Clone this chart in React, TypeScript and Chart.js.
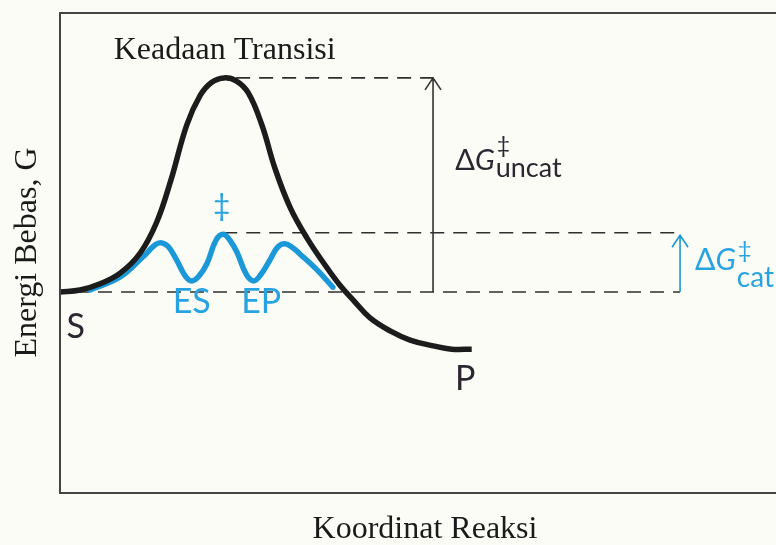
import { useEffect, useRef } from "react";
import { Chart, registerables } from "chart.js";

Chart.register(...registerables);

// Reaction coordinate (x) and free energy G (y), arbitrary units 0..100
const uncatX = [0, 2.8, 5.6, 8.4, 11.2, 13.5, 15.5, 17.7, 19.6, 21.2, 22.9, 24.6, 26.3, 28.2, 30.0, 32.1, 34.5, 37.3, 39.1, 41.2, 43.3, 46.1, 48.9, 52.1, 54.7, 57.5];
const uncatG = [41.8, 42.2, 43.5, 45.7, 49.9, 56.3, 65.1, 76.5, 82.7, 85.4, 86.3, 85.7, 83.2, 76.5, 67.6, 59.5, 53.0, 46.8, 43.2, 39.7, 36.4, 33.7, 31.8, 30.6, 29.9, 29.9];

const catX = [4.2, 8.4, 11.6, 13.3, 14.2, 15.2, 16.3, 17.5, 18.4, 19.4, 20.5, 21.8, 22.8, 23.7, 24.7, 26.0, 27.0, 27.9, 29.3, 30.4, 31.4, 32.4, 33.5, 35.9, 38.1];
const catG = [42.2, 44.9, 49.1, 51.6, 52.0, 51.1, 48.4, 45.1, 44.1, 45.1, 47.6, 52.6, 53.8, 52.6, 50.1, 45.5, 44.1, 45.1, 48.4, 51.1, 51.8, 51.1, 49.7, 46.4, 42.8];

// Dashed reference levels
const levelG = [86.3, 54.1, 41.8];
const levelFrom = [24.6, 22.8, 2.1];
const levelTo = [52.1, 86.6, 86.6];

// Activation energy arrows
const arrowX = [52.1, 86.6];
const arrowBase = [41.8, 41.8];
const arrowTip = [86.3, 53.6];
const arrowKind = ["uncat", "cat"];

// Point labels
const labelText = ["S", "P", "ES", "EP", "‡"];
const labelX = [2.2, 56.6, 18.4, 28.1, 22.6];
const labelY = [32.2, 21.4, 37.4, 37.4, 59.5];
const labelKind = ["dark", "dark", "blue", "blue", "blue"];

// ΔG‡ labels
const deltaSub = ["uncat", "cat"];
const deltaX = [55.2, 88.7];
const deltaY = [67.2, 46.4];

const titleText = "Keadaan Transisi";
const titleX = 23.0;
const titleY = 90.2;
const xTitle = "Koordinat Reaksi";
const yTitle = "Energi Bebas, G";

const BG = "#fcfcf7";
const DARK = "#1c1c1c";
const TEXT_DARK = "#2b2630";
const BLUE = "#1b98d8";
const BLUE_TEXT = "#27a3e2";
const SANS = "Lato, 'Open Sans', sans-serif";
const SERIF = "'Liberation Serif', 'DejaVu Serif', serif";

const diagramPlugin = {
  id: "diagram",
  beforeDraw(chart: any) {
    const { ctx, width, height } = chart;
    ctx.save();
    ctx.fillStyle = BG;
    ctx.fillRect(0, 0, width, height);
    ctx.restore();
  },
  afterDraw(chart: any) {
    const { ctx, chartArea: a } = chart;
    const xs = chart.scales.x;
    const ys = chart.scales.y;
    ctx.save();

    // frame (open to the right)
    ctx.strokeStyle = "#444444";
    ctx.lineWidth = 2;
    ctx.beginPath();
    ctx.moveTo(chart.width + 5, a.top + 1);
    ctx.lineTo(a.left, a.top + 1);
    ctx.lineTo(a.left, a.bottom);
    ctx.lineTo(chart.width + 5, a.bottom);
    ctx.stroke();

    // arrows
    arrowX.forEach((v, i) => {
      const px = xs.getPixelForValue(v);
      const pb = ys.getPixelForValue(arrowBase[i]);
      const pt = ys.getPixelForValue(arrowTip[i]);
      ctx.strokeStyle = arrowKind[i] === "cat" ? BLUE : "#333333";
      ctx.lineWidth = 1.6;
      ctx.beginPath();
      ctx.moveTo(px, pb);
      ctx.lineTo(px, pt);
      ctx.moveTo(px - 8, pt + 12);
      ctx.lineTo(px, pt);
      ctx.lineTo(px + 8, pt + 12);
      ctx.stroke();
    });

    // point labels
    ctx.textAlign = "center";
    labelText.forEach((t, i) => {
      const px = xs.getPixelForValue(labelX[i]);
      const py = ys.getPixelForValue(labelY[i]);
      ctx.fillStyle = labelKind[i] === "blue" ? BLUE_TEXT : TEXT_DARK;
      if (t === "‡") {
        ctx.font = `30px ${SANS}`;
        ctx.textBaseline = "middle";
      } else {
        ctx.font = `34px ${SANS}`;
        ctx.textBaseline = "alphabetic";
      }
      ctx.fillText(t, px, py);
    });

    // ΔG‡ labels
    deltaSub.forEach((sub, i) => {
      const cat = sub === "cat";
      const size = cat ? 30 : 29;
      let px = xs.getPixelForValue(deltaX[i]);
      const py = ys.getPixelForValue(deltaY[i]);
      ctx.fillStyle = cat ? BLUE_TEXT : TEXT_DARK;
      ctx.textAlign = "left";
      ctx.textBaseline = "alphabetic";
      ctx.font = `${size}px ${SANS}`;
      ctx.fillText("Δ", px, py);
      px += ctx.measureText("Δ").width;
      ctx.font = `italic ${size}px ${SANS}`;
      ctx.fillText("G", px, py);
      px += ctx.measureText("G").width;
      ctx.font = `${cat ? 24 : 23}px ${SANS}`;
      ctx.textBaseline = "middle";
      ctx.fillText("‡", px + 2, py + (cat ? -20 : -24));
      ctx.textBaseline = "alphabetic";
      ctx.font = `${cat ? 28 : 27}px ${SANS}`;
      ctx.fillText(sub, px + 1, py + (cat ? 17 : 7));
    });

    // title over the transition state
    ctx.fillStyle = "#1a1a1a";
    ctx.textAlign = "center";
    ctx.textBaseline = "alphabetic";
    ctx.font = `32px ${SERIF}`;
    ctx.fillText(titleText, xs.getPixelForValue(titleX), ys.getPixelForValue(titleY));

    // axis titles
    ctx.font = `32px ${SERIF}`;
    ctx.fillText(xTitle, (a.left + 790) / 2, a.bottom + 45);
    ctx.translate(a.left - 24, (a.top + a.bottom) / 2);
    ctx.rotate(-Math.PI / 2);
    ctx.fillText(yTitle, 0, 0);

    ctx.restore();
  },
};

export default function App() {
  const ref = useRef<HTMLCanvasElement | null>(null);

  useEffect(() => {
    if (!ref.current) return;
    const levelSets = levelG.map((g, i) => ({
      label: "level " + i,
      data: [
        { x: levelFrom[i], y: g },
        { x: levelTo[i], y: g },
      ],
      borderColor: "#2e2e2e",
      borderWidth: 1.6,
      borderDash: [14, 9],
      pointRadius: 0,
      showLine: true,
      tension: 0,
      order: 3,
    }));
    const chart = new Chart(ref.current, {
      type: "scatter",
      data: {
        datasets: [
          {
            label: "Tanpa katalis",
            data: uncatX.map((x, i) => ({ x, y: uncatG[i] })),
            borderColor: DARK,
            borderWidth: 5.5,
            pointRadius: 0,
            showLine: true,
            tension: 0.4,
            borderCapStyle: "butt",
            order: 1,
          },
          {
            label: "Dengan enzim",
            data: catX.map((x, i) => ({ x, y: catG[i] })),
            borderColor: BLUE,
            borderWidth: 5.5,
            pointRadius: 0,
            showLine: true,
            tension: 0.4,
            borderCapStyle: "round",
            order: 2,
          },
          ...levelSets,
        ] as any,
      },
      options: {
        animation: false,
        responsive: false,
        layout: { padding: { left: 60, top: 12, right: 0, bottom: 52 } },
        plugins: { legend: { display: false }, tooltip: { enabled: false } },
        scales: {
          x: { type: "linear", min: 0, max: 100, display: false },
          y: { type: "linear", min: 0, max: 100, display: false },
        },
        events: [],
      },
      plugins: [diagramPlugin],
    });
    return () => chart.destroy();
  }, []);

  return (
    <div style={{ position: "fixed", left: 0, top: 0, width: 776, height: 545, background: BG }}>
      <canvas ref={ref} width={776} height={545} style={{ display: "block" }} />
    </div>
  );
}
